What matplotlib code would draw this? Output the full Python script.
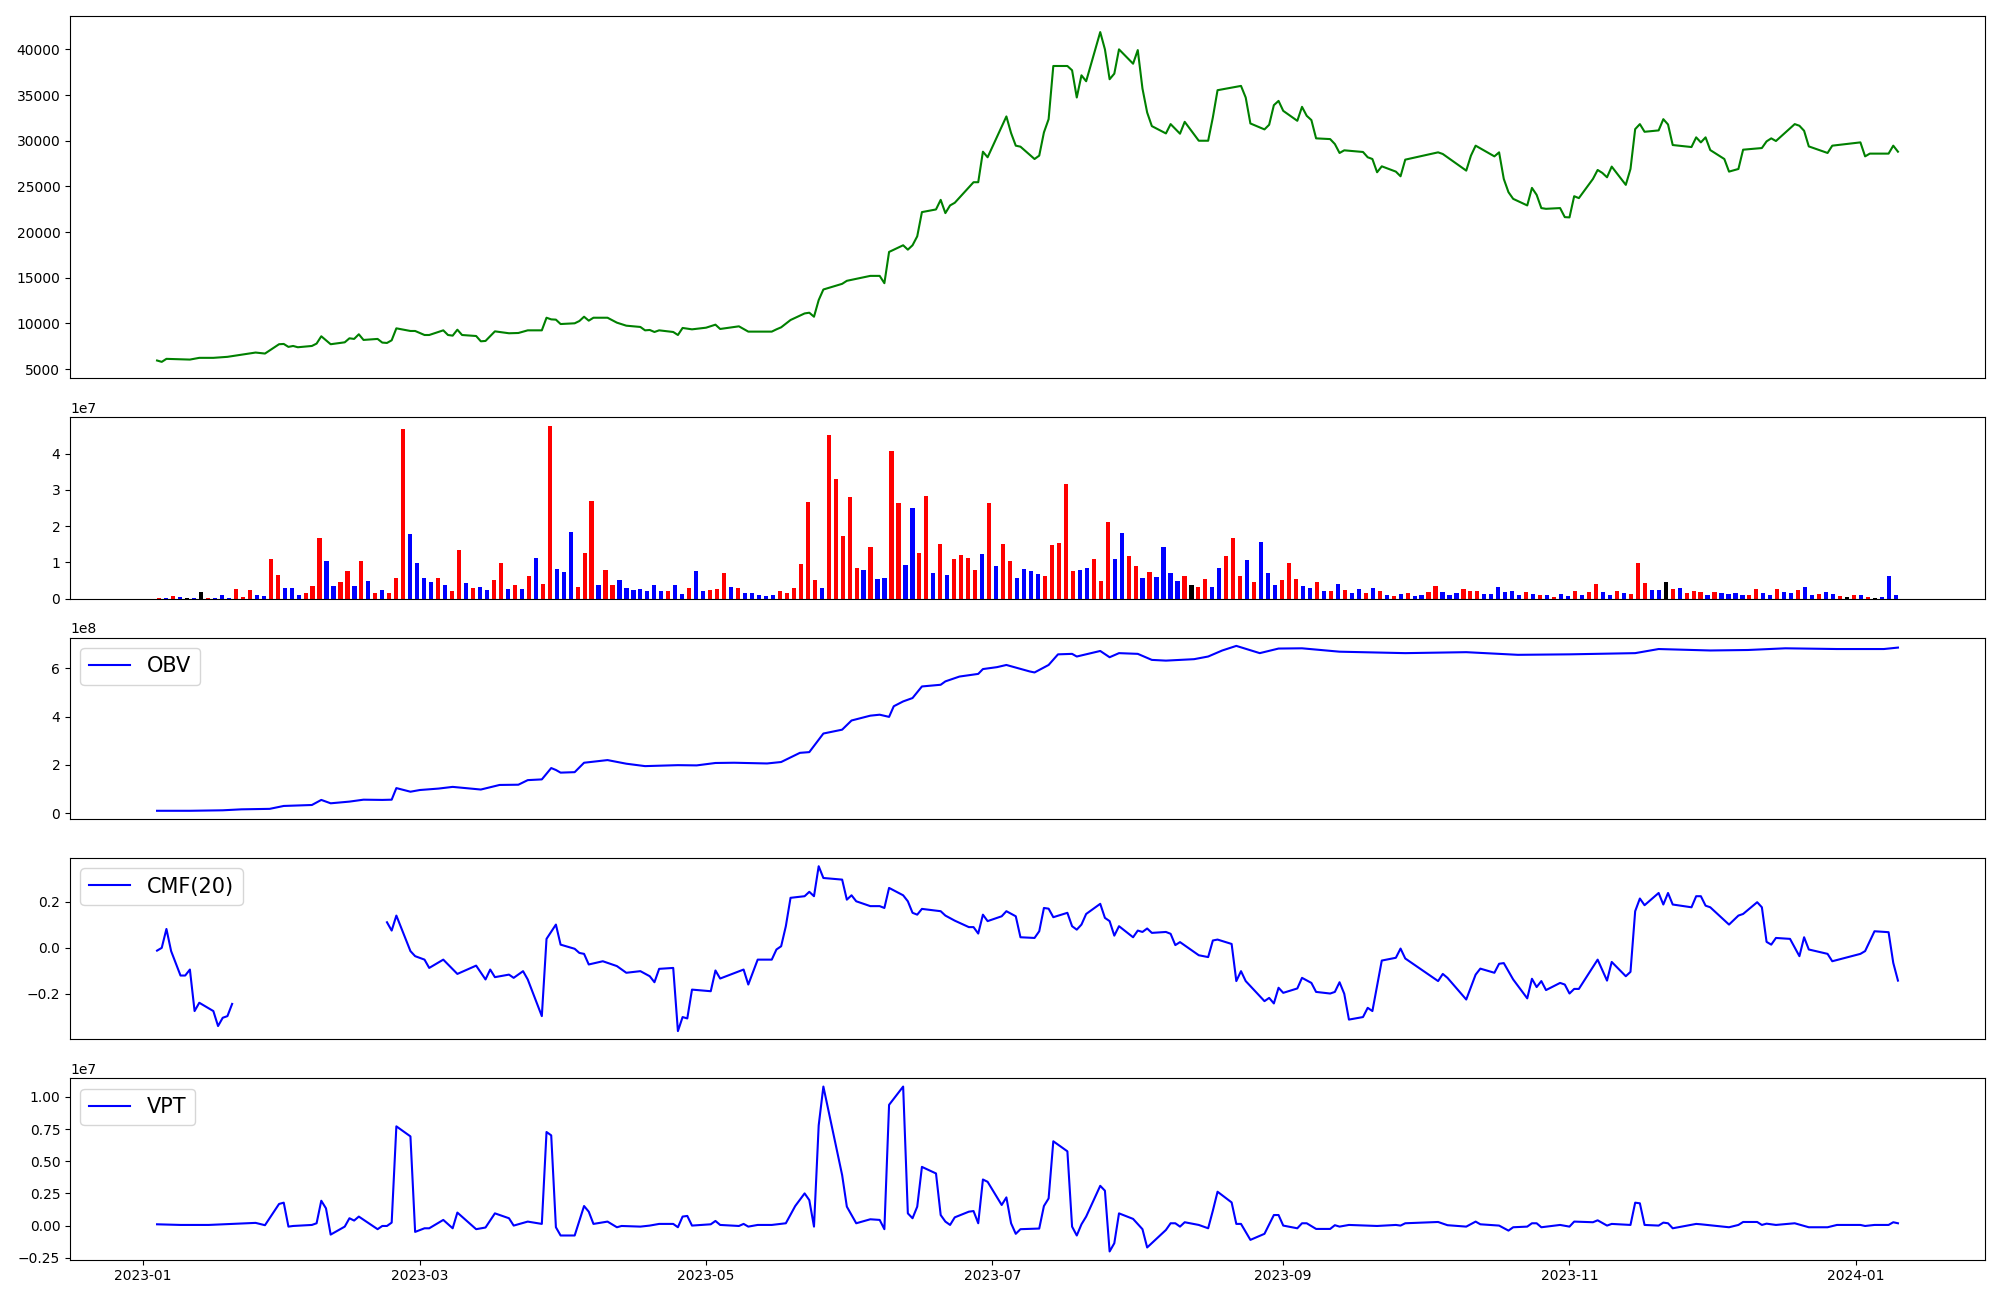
import numpy as np
import pandas as pd
import matplotlib
matplotlib.use("Agg")
from matplotlib import pyplot as plt
import matplotlib.dates as mdates

# x values of the line panels are days counted from 2023-01-01
start = pd.Timestamp("2023-01-01")

#Closing price:
price_day = [3, 4, 5, 10, 12, 15, 18, 24, 26, 29, 30, 31, 32, 33, 36, 37, 38, 40, 43, 44,
             45, 46, 47, 50, 51, 52, 53, 54, 57, 58, 60, 61, 64, 65, 66, 67, 68, 71, 72, 73,
             75, 78, 80, 82, 85, 86, 87, 88, 89, 92, 93, 94, 95, 96, 99, 101, 103, 106, 107, 108,
             109, 110, 113, 114, 115, 117, 120, 122, 123, 127, 129, 134, 135, 136, 138, 141, 142, 143, 144, 145,
             149, 150, 155, 157, 158, 159, 162, 163, 164, 165, 166, 169, 170, 171, 172, 173, 177, 178, 179, 180,
             184, 185, 186, 187, 190, 191, 192, 193, 194, 197, 198, 199, 200, 201, 204, 205, 206, 207, 208, 211,
             212, 213, 214, 215, 218, 219, 221, 222, 225, 227, 228, 229, 234, 235, 236, 239, 240, 241, 242, 243,
             246, 247, 248, 249, 250, 253, 254, 255, 256, 260, 261, 262, 263, 264, 267, 268, 269, 276, 277, 282,
             283, 284, 288, 289, 290, 291, 292, 295, 296, 297, 298, 299, 302, 303, 304, 305, 306, 309, 310, 311,
             312, 313, 316, 317, 318, 319, 320, 323, 324, 325, 326, 330, 331, 332, 333, 334, 337, 338, 340, 341,
             345, 346, 347, 348, 352, 353, 354, 355, 359, 360, 366, 367, 368, 372, 373, 374]
price = [5950, 5800, 6130, 6050, 6240, 6240, 6350, 6820, 6710, 7730, 7760, 7440, 7540, 7400, 7540, 7800, 8600, 7730, 7940, 8380,
         8310, 8820, 8200, 8310, 7910, 7870, 8160, 9470, 9180, 9180, 8740, 8740, 9250, 8740, 8670, 9320, 8740, 8630, 8050, 8090,
         9140, 8930, 8960, 9250, 9250, 10630, 10450, 10420, 9940, 10020, 10270, 10740, 10310, 10630, 10630, 10090, 9760, 9620, 9250, 9290,
         9070, 9250, 9070, 8740, 9510, 9360, 9540, 9870, 9400, 9690, 9110, 9110, 9360, 9580, 10380, 11100, 11180, 10740, 12560, 13720,
         14340, 14670, 15210, 15210, 14410, 17830, 18560, 18080, 18560, 19540, 22190, 22480, 23530, 22080, 22920, 23210, 25460, 25460, 28800, 28190,
         32660, 30840, 29460, 29350, 28000, 28370, 30910, 32360, 38180, 38180, 37710, 34730, 37160, 36510, 41890, 40000, 36730, 37340, 40000, 38430,
         39920, 35710, 33090, 31600, 30800, 31820, 30770, 32070, 30000, 30000, 32550, 35530, 36000, 34730, 31890, 31240, 31750, 33890, 34360, 33270,
         32180, 33710, 32730, 32260, 30260, 30180, 29640, 28660, 28950, 28770, 28190, 28000, 26550, 27200, 26620, 26110, 27930, 28730, 28550, 26730,
         28370, 29460, 28290, 28730, 25820, 24370, 23640, 22920, 24840, 24080, 22630, 22550, 22630, 21640, 21610, 23930, 23720, 25820, 26800, 26480,
         26000, 27170, 25170, 26910, 31270, 31820, 30980, 31130, 32360, 31780, 29530, 29310, 30370, 29820, 30370, 28980, 28000, 26620, 26910, 29020,
         29200, 29930, 30260, 29970, 31820, 31640, 31090, 29380, 28660, 29460, 29820, 28290, 28590, 28590, 29460, 28800]

#Daily volume (units of 1e7), one bar per trading day:
volume_1e7 = [0.03, 0.03, 0.08, 0.055, 0.03, 0.03, 0.19, 0.03, 0.03, 0.11,
              0.03, 0.28, 0.055, 0.25, 0.11, 0.08, 1.10, 0.66, 0.30, 0.30,
              0.11, 0.17, 0.36, 1.68, 1.05, 0.36, 0.47, 0.77, 0.36, 1.05,
              0.50, 0.17, 0.25, 0.17, 0.58, 4.68, 1.79, 0.99, 0.58, 0.47,
              0.58, 0.39, 0.22, 1.35, 0.44, 0.30, 0.33, 0.25, 0.52, 0.99,
              0.28, 0.39, 0.28, 0.63, 1.13, 0.41, 4.76, 0.83, 0.74, 1.84,
              0.33, 1.27, 2.70, 0.39, 0.80, 0.39, 0.52, 0.30, 0.25, 0.28,
              0.22, 0.39, 0.22, 0.22, 0.39, 0.14, 0.30, 0.77, 0.22, 0.25,
              0.28, 0.72, 0.33, 0.30, 0.17, 0.17, 0.11, 0.08, 0.11, 0.22,
              0.17, 0.30, 0.96, 2.67, 0.52, 0.30, 4.51, 3.30, 1.73, 2.81,
              0.85, 0.80, 1.43, 0.55, 0.58, 4.07, 2.64, 0.94, 2.50, 1.27,
              2.83, 0.72, 1.51, 0.66, 1.10, 1.21, 1.13, 0.80, 1.24, 2.64,
              0.91, 1.51, 1.05, 0.58, 0.83, 0.77, 0.69, 0.63, 1.49, 1.54,
              3.17, 0.77, 0.80, 0.85, 1.10, 0.50, 2.12, 1.10, 1.82, 1.18,
              0.91, 0.58, 0.74, 0.61, 1.43, 0.72, 0.50, 0.63, 0.39, 0.33,
              0.55, 0.33, 0.85, 1.18, 1.68, 0.63, 1.07, 0.47, 1.57, 0.72,
              0.39, 0.52, 0.99, 0.55, 0.36, 0.30, 0.47, 0.22, 0.22, 0.41,
              0.25, 0.17, 0.28, 0.17, 0.30, 0.22, 0.11, 0.08, 0.14, 0.17,
              0.08, 0.11, 0.19, 0.36, 0.19, 0.11, 0.17, 0.28, 0.22, 0.22,
              0.14, 0.14, 0.33, 0.19, 0.22, 0.11, 0.19, 0.14, 0.11, 0.11,
              0.055, 0.14, 0.08, 0.22, 0.11, 0.19, 0.41, 0.19, 0.11, 0.22,
              0.17, 0.14, 0.99, 0.44, 0.25, 0.25, 0.47, 0.28, 0.30, 0.17,
              0.22, 0.19, 0.11, 0.19, 0.17, 0.14, 0.17, 0.11, 0.11, 0.28,
              0.17, 0.11, 0.28, 0.19, 0.17, 0.25, 0.33, 0.11, 0.14, 0.19,
              0.14, 0.08, 0.055, 0.11, 0.11, 0.055, 0.03, 0.055, 0.63, 0.11]
# r = close up, b = close down, k = unchanged
volume_dir = ("rbrbkbkrbb" "brrrbbrrbb" "brrrbbrrbr" "brbrrrbbbb" "rbrrbrbbrr"
              "brbrbrrbbb" "rrrbrrbbbb" "bbbrbbrbbr" "rrbrbbbbbr" "rrrrrbrrrr"
              "rbrbbrrbbr" "rbrbrrrrbr" "brrbbbbrrr" "rrbbrrrbbr" "rbrbbbbrkr"
              "rbbrrrbrbb" "brrrbbrbrb" "rbbrbrbrbr" "bbrrbbbrrr" "bbbbbbrbrb"
              "rbbrbrrbbr" "brrrbbkrbr" "rrbrbbbbrr" "bbrbbrbbrb" "brkrbrkbbb")

#On balance volume (units of 1e8):
obv_day = [3, 10, 17, 21, 27, 30, 36, 38, 40, 44, 47, 51, 53, 54, 57, 59, 63, 66, 72, 76,
           80, 82, 85, 87, 88, 89, 92, 94, 99, 103, 107, 114, 118, 122, 126, 133, 136, 140, 142, 145,
           149, 151, 155, 157, 159, 160, 162, 164, 166, 170, 171, 174, 178, 179, 182, 184, 189, 190, 193, 195,
           198, 199, 204, 206, 208, 212, 215, 218, 224, 227, 230, 233, 238, 242, 247, 255, 269, 282, 293, 304,
           318, 323, 334, 342, 350, 361, 371, 374]
obv_1e8 = [0.10, 0.10, 0.12, 0.16, 0.18, 0.30, 0.34, 0.55, 0.41, 0.48, 0.56, 0.55, 0.56, 1.04, 0.89, 0.96, 1.02, 1.09, 0.98, 1.17,
           1.18, 1.37, 1.40, 1.87, 1.79, 1.68, 1.70, 2.09, 2.20, 2.05, 1.95, 1.99, 1.98, 2.08, 2.09, 2.06, 2.12, 2.50, 2.53, 3.30,
           3.46, 3.84, 4.04, 4.08, 3.99, 4.43, 4.63, 4.77, 5.25, 5.32, 5.46, 5.66, 5.77, 5.97, 6.05, 6.14, 5.87, 5.83, 6.14, 6.58,
           6.60, 6.49, 6.72, 6.46, 6.63, 6.60, 6.35, 6.32, 6.38, 6.49, 6.74, 6.93, 6.63, 6.82, 6.83, 6.69, 6.63, 6.67, 6.56, 6.58,
           6.63, 6.80, 6.74, 6.76, 6.83, 6.80, 6.80, 6.86]

#Chaikin money flow, 20 days (missing stretch from late January to late February):
cmf_day = [3, 4, 5, 6, 8, 9, 10, 11, 12, 15, 16, 17, 18, 19, 35,
           52, 53, 54, 57, 58, 60, 61, 64, 67, 71, 73, 74, 75, 78, 79, 81, 82, 85, 86, 88,
           89, 92, 93, 94, 95, 98, 101, 103, 106, 108, 109, 110, 113, 114, 115, 116, 117, 121, 122, 123,
           128, 129, 131, 134, 135, 136, 137, 138, 141, 142, 143, 144, 145, 149, 150, 151, 152, 155, 157, 158,
           159, 162, 163, 164, 165, 166, 170, 171, 173, 176, 177, 178, 179, 180, 183, 184, 186, 187, 190, 191,
           192, 193, 194, 197, 198, 199, 200, 201, 204, 205, 206, 207, 208, 211, 212, 213, 214, 215, 218, 219,
           220, 221, 225, 227, 228, 229, 232, 233, 234, 235, 239, 240, 241, 242, 243, 246, 247, 249, 250, 253,
           254, 255, 256, 257, 260, 261, 262, 264, 267, 268, 269, 276, 277, 278, 282, 284, 285, 288, 289, 290,
           292, 295, 296, 297, 298, 299, 302, 303, 304, 305, 306, 310, 312, 313, 316, 317, 318, 319, 320, 323,
           324, 325, 326, 330, 331, 332, 333, 334, 338, 340, 341, 344, 345, 346, 347, 348, 351, 353, 354, 355,
           359, 360, 366, 367, 369, 372, 373, 374]
cmf = [-0.012, 0.0, 0.082, -0.014, -0.12, -0.12, -0.094, -0.274, -0.238, -0.274, -0.339, -0.303, -0.296, -0.243, np.nan,
       0.111, 0.075, 0.140, -0.014, -0.036, -0.051, -0.087, -0.051, -0.113, -0.077, -0.137, -0.094, -0.127, -0.116, -0.130, -0.101, -0.137, -0.296, 0.039, 0.101,
       0.014, -0.004, -0.022, -0.026, -0.072, -0.058, -0.079, -0.108, -0.101, -0.123, -0.149, -0.091, -0.087, -0.361, -0.300, -0.306, -0.181, -0.188, -0.098, -0.133,
       -0.094, -0.159, -0.051, -0.051, -0.007, 0.007, 0.094, 0.217, 0.224, 0.243, 0.224, 0.354, 0.303, 0.296, 0.209, 0.228, 0.202, 0.181, 0.181, 0.173,
       0.260, 0.228, 0.202, 0.152, 0.144, 0.169, 0.159, 0.140, 0.118, 0.090, 0.090, 0.062, 0.144, 0.116, 0.137, 0.159, 0.137, 0.046, 0.043, 0.072,
       0.173, 0.170, 0.133, 0.152, 0.094, 0.079, 0.101, 0.147, 0.191, 0.130, 0.116, 0.053, 0.094, 0.046, 0.075, 0.069, 0.084, 0.065, 0.069, 0.061,
       0.012, 0.025, -0.032, -0.040, 0.032, 0.036, 0.017, -0.144, -0.101, -0.144, -0.231, -0.217, -0.241, -0.173, -0.195, -0.176, -0.130, -0.152, -0.191, -0.198,
       -0.191, -0.149, -0.199, -0.311, -0.300, -0.260, -0.274, -0.055, -0.043, -0.003, -0.046, -0.144, -0.113, -0.130, -0.224, -0.116, -0.090, -0.108, -0.069, -0.066,
       -0.137, -0.219, -0.134, -0.170, -0.144, -0.183, -0.152, -0.159, -0.198, -0.178, -0.178, -0.051, -0.142, -0.061, -0.123, -0.104, 0.159, 0.214, 0.185, 0.238,
       0.188, 0.238, 0.188, 0.176, 0.224, 0.224, 0.183, 0.176, 0.101, 0.140, 0.147, 0.198, 0.176, 0.026, 0.014, 0.043, 0.039, -0.036, 0.046, -0.007,
       -0.026, -0.058, -0.026, -0.014, 0.072, 0.068, -0.065, -0.142]

#Volume price trend (units of 1e7):
vpt_day = [3, 8, 14, 24, 26, 29, 30, 31, 32, 36, 37, 38, 39, 40, 43, 44, 45, 46, 50, 51,
           52, 53, 54, 57, 58, 60, 61, 64, 66, 67, 71, 73, 75, 78, 79, 82, 85, 86, 87, 88,
           89, 92, 94, 95, 96, 99, 101, 102, 106, 108, 110, 113, 114, 115, 116, 117, 121, 122, 123, 127,
           128, 129, 131, 134, 137, 139, 141, 142, 143, 144, 145, 149, 150, 152, 155, 157, 158, 159, 162, 163,
           164, 165, 166, 169, 170, 171, 172, 173, 176, 177, 178, 179, 180, 183, 184, 185, 186, 187, 191, 192,
           193, 194, 197, 198, 199, 200, 201, 204, 205, 206, 207, 208, 211, 213, 214, 218, 219, 220, 221, 222,
           225, 227, 228, 229, 232, 233, 234, 236, 239, 241, 242, 243, 246, 247, 248, 250, 253, 254, 255, 257,
           263, 267, 268, 269, 276, 278, 282, 284, 285, 289, 291, 292, 295, 296, 297, 298, 302, 304, 305, 309,
           310, 312, 313, 317, 318, 319, 320, 323, 324, 325, 326, 331, 332, 338, 340, 341, 344, 345, 346, 348,
           352, 355, 359, 361, 366, 367, 369, 372, 373, 374]
vpt_1e7 = [0.010, 0.005, 0.005, 0.021, 0.003, 0.168, 0.178, -0.008, -0.003, 0.005, 0.018, 0.193, 0.134, -0.070, -0.008, 0.057, 0.039, 0.070, -0.028, -0.003,
           -0.003, 0.023, 0.771, 0.693, -0.049, -0.021, -0.021, 0.044, -0.021, 0.101, -0.028, -0.015, 0.095, 0.057, 0.0, 0.031, 0.013, 0.727, 0.701, -0.013,
           -0.077, -0.077, 0.152, 0.108, 0.013, 0.031, -0.013, -0.003, -0.008, 0.0, 0.013, 0.013, -0.013, 0.070, 0.075, 0.0, 0.010, 0.036, 0.005, -0.003,
           0.013, -0.008, 0.005, 0.005, 0.018, 0.152, 0.250, 0.198, -0.008, 0.778, 1.080, 0.392, 0.147, 0.018, 0.049, 0.044, -0.028, 0.938, 1.080, 0.095,
           0.057, 0.147, 0.456, 0.405, 0.082, 0.031, 0.005, 0.064, 0.108, 0.113, 0.018, 0.358, 0.340, 0.160, 0.219, 0.018, -0.064, -0.028, -0.023, 0.152,
           0.211, 0.655, 0.577, -0.008, -0.077, 0.010, 0.070, 0.309, 0.271, -0.201, -0.137, 0.095, 0.052, -0.028, -0.170, -0.034, 0.018, 0.018, -0.008, 0.026,
           0.005, -0.021, 0.116, 0.263, 0.180, 0.013, 0.013, -0.111, -0.064, 0.082, 0.082, 0.0, -0.021, 0.018, 0.018, -0.026, -0.026, 0.003, -0.008, 0.005,
           -0.003, 0.005, 0.0, 0.018, 0.028, 0.003, -0.008, 0.031, 0.010, 0.0, -0.039, -0.013, -0.008, 0.018, 0.018, -0.013, 0.005, -0.008, 0.031, 0.026,
           0.041, 0.0, 0.013, 0.005, 0.178, 0.173, 0.005, 0.0, 0.023, 0.018, -0.021, 0.013, 0.010, -0.013, 0.005, 0.028, 0.028, 0.005, 0.015, 0.005,
           0.018, -0.013, -0.013, 0.005, 0.005, -0.003, 0.005, 0.005, 0.026, 0.018]


def to_dates(days):
    return start + pd.to_timedelta(days, unit="D")


bar_colors = [{"r": "red", "b": "blue", "k": "black"}[c] for c in volume_dir]
volume = np.array(volume_1e7) * 1e7

fig = plt.figure(figsize=(20, 13), dpi=100)
gs = fig.add_gridspec(5, 1, height_ratios=[2, 1, 1, 1, 1], left=0.035, right=0.9925,
                      top=0.988, bottom=0.031, hspace=0.179)
ax_price = fig.add_subplot(gs[0])
ax_vol = fig.add_subplot(gs[1])
ax_obv = fig.add_subplot(gs[2], sharex=ax_price)
ax_cmf = fig.add_subplot(gs[3], sharex=ax_price)
ax_vpt = fig.add_subplot(gs[4], sharex=ax_price)

ax_price.plot(to_dates(price_day), price, color="green")

# volume bars sit on a plain index axis
ax_vol.bar(np.arange(len(volume)), volume, width=0.6, color=bar_colors)
ax_vol.set_xticks([])

ax_obv.plot(to_dates(obv_day), np.array(obv_1e8) * 1e8, color="blue", label="OBV")
ax_obv.legend(loc="upper left", fontsize=15)

ax_cmf.plot(to_dates(cmf_day), cmf, color="blue", label="CMF(20)")
ax_cmf.legend(loc="upper left", fontsize=15)

ax_vpt.plot(to_dates(vpt_day), np.array(vpt_1e7) * 1e7, color="blue", label="VPT")
ax_vpt.legend(loc="upper left", fontsize=15)

for ax in (ax_price, ax_obv, ax_cmf):
    ax.tick_params(axis="x", bottom=False, labelbottom=False)

ax_vpt.xaxis.set_major_locator(mdates.MonthLocator(bymonth=[1, 3, 5, 7, 9, 11]))
ax_vpt.xaxis.set_major_formatter(mdates.DateFormatter("%Y-%m"))

plt.savefig("out.png")
